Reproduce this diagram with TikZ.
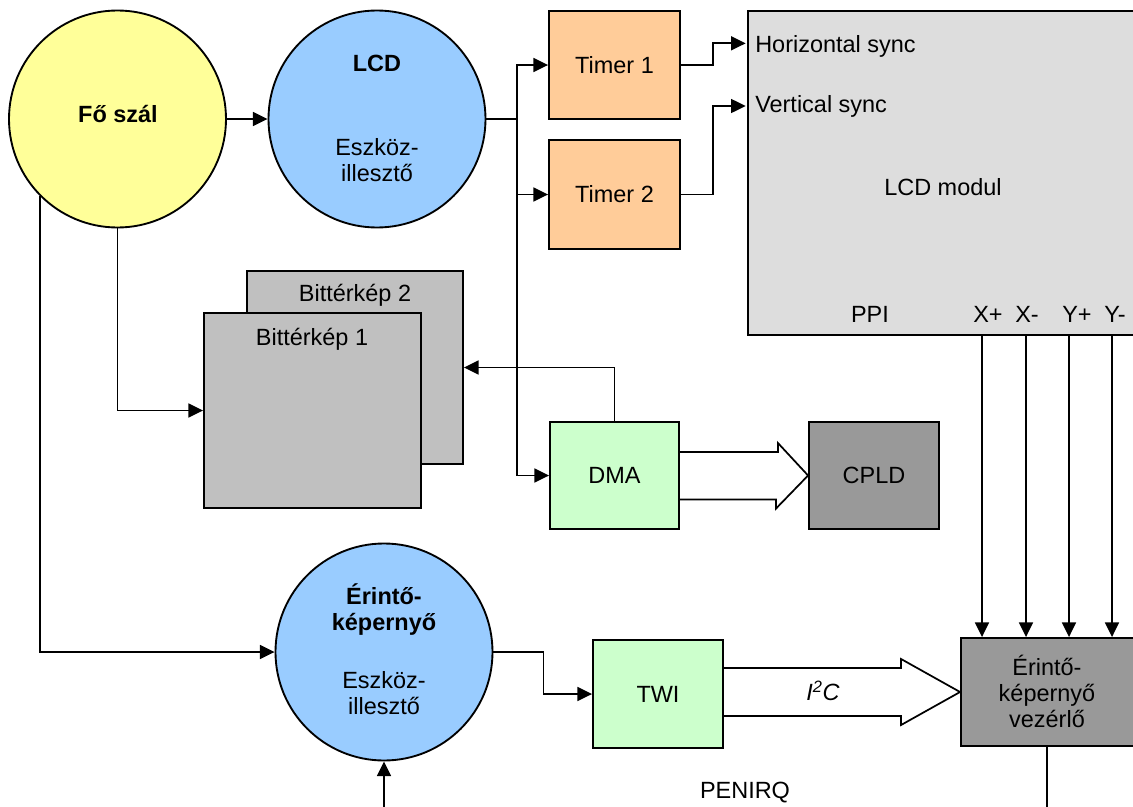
\documentclass[tikz,border=0pt]{standalone}
\usepackage{fontspec}
\setmainfont{Liberation Sans}
\usetikzlibrary{arrows.meta}
\definecolor{cyellow}{HTML}{FFFF99}
\definecolor{cblue}{HTML}{99CCFF}
\definecolor{corange}{HTML}{FFCC99}
\definecolor{cgreen}{HTML}{CCFFCC}
\definecolor{cgraymid}{HTML}{C0C0C0}
\definecolor{cgraylt}{HTML}{DDDDDD}
\definecolor{cgraydk}{HTML}{999999}
\newcommand\dfont{\fontsize{17.6}{19.5}\selectfont}
\begin{document}
\begin{tikzpicture}[x=0.75pt,y=-0.75pt,
  every node/.style={font=\dfont},
  conn/.style={line width=1.3pt},
  arr/.style={conn,-{Triangle[length=11pt,width=10.5pt]}},
  blk/.style={line width=1.3pt,line join=miter},
  circ/.style={circle,draw,line width=1.4pt,inner sep=0pt,minimum size=162.75pt},
  box/.style={rectangle,draw,line width=1.4pt,inner sep=0pt,align=center},
  lbl/.style={inner sep=0pt,align=center},
  bold/.style={font=\dfont\bfseries}
]
\useasboundingbox (0,0) rectangle (1133,807);
\clip (0,0) rectangle (1133,807);

% shapes
\node[circ,fill=cyellow] (fo) at (117.5,119) {};
\node[circ,fill=cblue] (lcd) at (377,119) {};
\node[circ,fill=cblue] (eri) at (384,652) {};
\node[box,fill=corange,minimum width=131*0.75pt,minimum height=108*0.75pt] (t1) at (614.5,65) {Timer 1};
\node[box,fill=corange,minimum width=131*0.75pt,minimum height=109*0.75pt] (t2) at (614.5,194.5) {Timer 2};
\node[box,fill=cgraylt,minimum width=440*0.75pt,minimum height=324*0.75pt] (lcdm) at (968,173) {};
\node[box,fill=cgraymid,minimum width=216*0.75pt,minimum height=193*0.75pt] (bm2) at (355,367.5) {};
\node[box,fill=cgraymid,minimum width=217*0.75pt,minimum height=195*0.75pt] (bm1) at (312.5,410.5) {};
\node[box,fill=cgreen,minimum width=129*0.75pt,minimum height=107*0.75pt] (dma) at (614.5,475.5) {DMA};
\node[box,fill=cgraydk,minimum width=130*0.75pt,minimum height=107*0.75pt] (cpld) at (874,475.5) {CPLD};
\node[box,fill=cgreen,minimum width=130*0.75pt,minimum height=108*0.75pt] (twi) at (658,694) {TWI};
\node[box,fill=cgraydk,minimum width=220*0.75pt,minimum height=108*0.75pt] (vez) at (1071,692) {};

% labels
\node[lbl,bold] (fol) at (118,114) {Fő szál};
\node[lbl,bold] (lcdl) at (377,63) {LCD};
\node[lbl] (lcde) at (377,160) {Eszköz-\\illesztő};
\node[lbl,bold] (eril) at (384,610) {Érintő-\\képernyő};
\node[lbl] (erie) at (384,693) {Eszköz-\\illesztő};
\node[lbl] (bm2l) at (355,295) {Bittérkép 2};
\node[lbl] (bm1l) at (312,339) {Bittérkép 1};
\node[lbl,anchor=west] (hs) at (755,46) {Horizontal sync};
\node[lbl,anchor=west] (vs) at (755,106) {Vertical sync};
\node[lbl] (lcdml) at (943,187) {LCD modul};
\node[lbl] (ppi) at (870,314) {PPI};
\node[lbl] (xp) at (988,314) {X+};
\node[lbl] (xm) at (1027,314) {X-};
\node[lbl] (yp) at (1077,314) {Y+};
\node[lbl] (ym) at (1115,314) {Y-};
\node[lbl] (vezl) at (1047,691) {Érintő-\\képernyő\\vezérlő};
\node[lbl] (i2c) at (823,691) {\itshape I\textsuperscript{2}C};
\node[lbl] (pen) at (745,793) {PENIRQ};

% connectors
\coordinate (bus) at (517,119);
\draw[arr] (fo.east) -- (lcd.west);
\draw[conn] (lcd.east) -- (bus);
\draw[arr] (bus) |- (t1.west);
\draw[arr] (bus) |- (t2.west);
\draw[arr] (bus) |- (dma.west);
\draw[arr] (fo.south) |- (bm1.west);
\draw[arr] (fo.south west) |- (eri.west);
\draw[arr] (t1.east) -- ++(32,0) |- ([xshift=-7pt,yshift=2pt]hs.west);
\draw[arr] (t2.east) -- ++(32,0) |- ([xshift=-7pt]vs.west);
\draw[arr] (dma.north) |- (bm2.east);
\draw[blk] (dma.east) ++(0,-23.5) -- ++(98,0) -- ++(0,-9) -- (cpld.west) -- ++(-32,33) -- ++(0,-9) -- ++(-98,0);
\draw[arr] (eri.east) -- ++(50,0) |- (twi.west);
\draw[blk] (vez.west) ++(-238,-24) -- ++(179,0) -- ++(0,-9) -- (vez.west) -- ++(-59,33) -- ++(0,-9) -- ++(-179,0);
\foreach \xx in {982,1026,1069,1112}
  \draw[arr] (lcdm.south -| \xx,0) -- (vez.north -| \xx,0);
\draw[conn] (vez.south -| vezl) -- ++(0,70);
\draw[arr] (eri.south) ++(0,60) -- (eri.south);
\end{tikzpicture}
\end{document}
